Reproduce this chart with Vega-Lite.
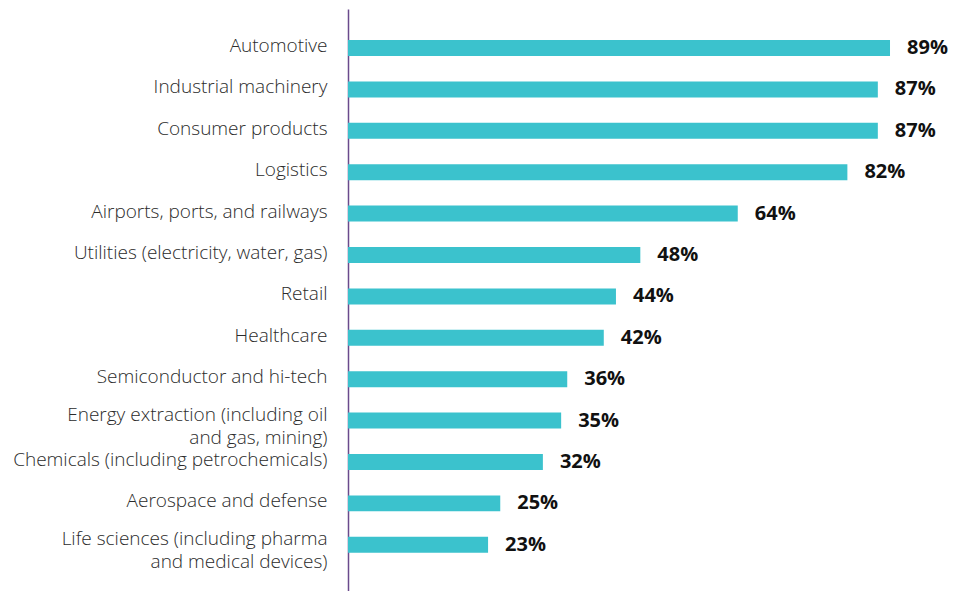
{
  "$schema": "https://vega.github.io/schema/vega-lite/v6.json",
  "autosize": {"type": "none"},
  "padding": {"left": 348, "top": 9, "right": 0, "bottom": 0},
  "width": 609,
  "height": 582,
  "background": "white",
  "config": {"view": {"stroke": null}},
  "data": {"values": [
    {"sector": "Automotive", "value": 0.89},
    {"sector": "Industrial machinery", "value": 0.87},
    {"sector": "Consumer products", "value": 0.87},
    {"sector": "Logistics", "value": 0.82},
    {"sector": "Airports, ports, and railways", "value": 0.64},
    {"sector": "Utilities (electricity, water, gas)", "value": 0.48},
    {"sector": "Retail", "value": 0.44},
    {"sector": "Healthcare", "value": 0.42},
    {"sector": "Semiconductor and hi-tech", "value": 0.36},
    {"sector": "Energy extraction (including oil|and gas, mining)", "value": 0.35},
    {"sector": "Chemicals (including petrochemicals)", "value": 0.32},
    {"sector": "Aerospace and defense", "value": 0.25},
    {"sector": "Life sciences (including pharma|and medical devices)", "value": 0.23}
  ]},
  "encoding": {
    "y": {
      "field": "sector", "type": "nominal", "sort": null,
      "scale": {"paddingInner": 0.614, "paddingOuter": 0.837, "align": 0.448},
      "axis": {
        "title": null, "ticks": false, "labelPadding": 21,
        "labelExpr": "split(datum.label, '|')",
        "labelOffset": {"condition": {"test": "indexof(datum.value, '|') >= 0", "value": -6}, "value": -2},
        "labelFont": "Open Sans", "labelFontWeight": 300, "labelFontSize": 19,
        "labelColor": "#2b2b2b", "labelLineHeight": 23, "labelLimit": 400,
        "domainColor": "#6a4a8c", "domainWidth": 1.5
      }
    },
    "x": {
      "field": "value", "type": "quantitative",
      "scale": {"domain": [0, 1], "nice": false},
      "axis": null
    }
  },
  "layer": [
    {"mark": {"type": "bar", "color": "#3bc2cd"}},
    {
      "mark": {"type": "text", "align": "left", "baseline": "middle", "dx": 17, "dy": 0,
               "font": "Open Sans", "fontWeight": "bold", "fontSize": 20, "color": "#111111"},
      "encoding": {"text": {"field": "value", "format": ".0%"}}
    }
  ]
}
